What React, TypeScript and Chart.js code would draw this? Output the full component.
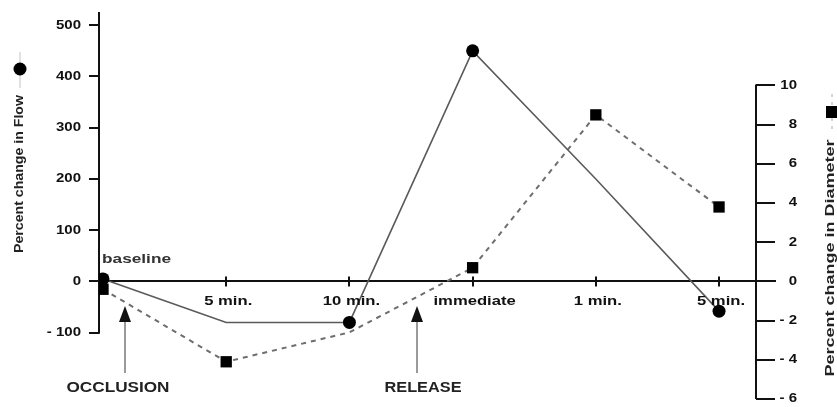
import React, { useEffect, useRef } from 'react';
import { Chart, registerables } from 'chart.js';

Chart.register(...registerables);

// ---- data ----
const categories = ['baseline', '5 min.', '10 min.', 'immediate', '1 min.', '5 min.'];
const flowValues = [5, -80, -80, 450, 200, -58];
const diameterValues = [-0.4, -4.1, -2.6, 0.7, 8.5, 3.8];
const flowMarkers = [true, false, true, true, false, true];
const diameterMarkers = [true, true, false, true, true, true];
const flowTicks = [-100, 0, 100, 200, 300, 400, 500];
const diameterTicks = [-6, -4, -2, 0, 2, 4, 6, 8, 10];
const eventLabels = ['OCCLUSION', 'RELEASE'];
const eventPositions = [0.18, 2.55];
const flowTitle = 'Percent change in Flow';
const diameterTitle = 'Percent change in Diameter';

const FONT = '"Liberation Sans", Arial, Helvetica, sans-serif';

type TextOpts = {
  size: number;
  weight?: string;
  align?: CanvasTextAlign;
  sx?: number;
  width?: number;
  rotate?: number;
  color?: string;
};

function drawText(ctx: CanvasRenderingContext2D, text: string, x: number, y: number, o: TextOpts) {
  ctx.save();
  ctx.font = `${o.weight ?? 'bold'} ${o.size}px ${FONT}`;
  const m = ctx.measureText(text).width;
  const sx = o.width ? o.width / m : o.sx ?? 1;
  ctx.translate(x, y);
  if (o.rotate) ctx.rotate(o.rotate);
  ctx.scale(sx, 1);
  ctx.textAlign = o.align ?? 'center';
  ctx.textBaseline = 'middle';
  ctx.fillStyle = o.color ?? '#111';
  ctx.fillText(text, 0, 0);
  ctx.restore();
}

const fmt = (v: number) => (v < 0 ? `- ${Math.abs(v)}` : `${v}`);

function seg(ctx: CanvasRenderingContext2D, x1: number, y1: number, x2: number, y2: number) {
  ctx.beginPath();
  ctx.moveTo(x1, y1);
  ctx.lineTo(x2, y2);
  ctx.stroke();
}

const paperAxes = {
  id: 'paperAxes',
  beforeDatasetsDraw(chart: any) {
    const { ctx, chartArea, scales } = chart;
    const xs = scales.x, ys = scales.y, y1s = scales.y1;
    const y0 = ys.getPixelForValue(0);
    const lx = chartArea.left;
    const rx = chartArea.right;
    ctx.save();
    ctx.strokeStyle = '#111';
    ctx.lineWidth = 2;
    ctx.lineCap = 'butt';
    // left axis
    seg(ctx, lx, chartArea.top, lx, ys.getPixelForValue(-100) + 1);
    flowTicks.forEach((v) => {
      const py = Math.round(ys.getPixelForValue(v));
      seg(ctx, lx - 10, py, lx, py);
    });
    // right axis
    seg(ctx, rx, y1s.getPixelForValue(10) - 1, rx, y1s.getPixelForValue(-6));
    diameterTicks.forEach((v) => {
      const py = Math.round(y1s.getPixelForValue(v));
      seg(ctx, rx, py, rx + 19, py);
    });
    // x axis
    seg(ctx, lx - 8, Math.round(y0), rx + 20, Math.round(y0));
    categories.forEach((_, i) => {
      if (i === 0) return;
      const px = Math.round(xs.getPixelForValue(i));
      seg(ctx, px, y0 - 5, px, y0 + 5);
    });
    ctx.restore();
  },
  afterDraw(chart: any) {
    const { ctx, chartArea, scales } = chart;
    const xs = scales.x, ys = scales.y, y1s = scales.y1;
    const y0 = ys.getPixelForValue(0);
    const lx = chartArea.left;
    const rx = chartArea.right;

    // tick labels
    flowTicks.forEach((v) => {
      drawText(ctx, fmt(v), lx - 18, ys.getPixelForValue(v), { size: 12, align: 'right', sx: 1.25 });
    });
    diameterTicks.forEach((v) => {
      drawText(ctx, fmt(v), rx + 41, y1s.getPixelForValue(v), { size: 12, align: 'right', sx: 1.25 });
    });
    categories.forEach((c, i) => {
      if (i === 0) {
        drawText(ctx, c, xs.getPixelForValue(i) - 1, y0 - 22, { size: 13, align: 'left', width: 69, color: '#333' });
      } else {
        drawText(ctx, c, xs.getPixelForValue(i) + 2, y0 + 20, { size: 13, sx: 1.28 });
      }
    });

    // event arrows
    eventPositions.forEach((p, k) => {
      const ax = Math.round(xs.getPixelForValue(p));
      ctx.save();
      ctx.strokeStyle = '#9a9a9a';
      ctx.lineWidth = 2;
      seg(ctx, ax, 320, ax, 373);
      ctx.fillStyle = '#111';
      ctx.beginPath();
      ctx.moveTo(ax, 306);
      ctx.lineTo(ax - 6, 322);
      ctx.lineTo(ax + 6, 322);
      ctx.closePath();
      ctx.fill();
      ctx.restore();
      const label = eventLabels[k];
      const w = k === 0 ? 103 : 77;
      const off = k === 0 ? -7 : 6;
      drawText(ctx, label, ax + off, 388, { size: 14, width: w, color: '#222' });
    });

    // axis titles with legend symbols
    drawText(ctx, flowTitle, 20, 174, { size: 12.5, width: 158, rotate: -Math.PI / 2, color: '#222' });
    drawText(ctx, diameterTitle, 830, 258, { size: 13.5, width: 237, rotate: -Math.PI / 2, color: '#222' });

    ctx.save();
    ctx.strokeStyle = '#c4c4c4';
    ctx.lineWidth = 1;
    seg(ctx, 20, 52, 20, 88);
    ctx.fillStyle = '#000';
    ctx.beginPath();
    ctx.arc(20, 69, 6.5, 0, Math.PI * 2);
    ctx.fill();
    ctx.strokeStyle = '#aaa';
    ctx.setLineDash([3, 5]);
    seg(ctx, 832, 94, 832, 132);
    ctx.setLineDash([]);
    ctx.fillStyle = '#000';
    ctx.fillRect(826, 106, 12, 12);
    ctx.restore();
  },
};

export default function App() {
  const ref = useRef<HTMLCanvasElement>(null);

  useEffect(() => {
    document.body.style.margin = '0';
    const canvas = ref.current!;
    const chart = new Chart(canvas, {
      type: 'line',
      data: {
        datasets: [
          {
            label: flowTitle,
            data: categories.map((_, i) => ({ x: i, y: flowValues[i] })),
            yAxisID: 'y',
            borderColor: '#5a5a5a',
            borderWidth: 1.6,
            pointStyle: 'circle',
            pointRadius: flowMarkers.map((m) => (m ? 6.5 : 0)),
            pointHoverRadius: flowMarkers.map((m) => (m ? 6.5 : 0)),
            pointBackgroundColor: '#000',
            pointBorderWidth: 0,
            tension: 0,
          },
          {
            label: diameterTitle,
            data: categories.map((_, i) => ({ x: i, y: diameterValues[i] })),
            yAxisID: 'y1',
            borderColor: '#6e6e6e',
            borderWidth: 2,
            borderDash: [5, 5],
            pointStyle: 'rect',
            pointRadius: diameterMarkers.map((m) => (m ? 8 : 0)),
            pointHoverRadius: diameterMarkers.map((m) => (m ? 8 : 0)),
            pointBackgroundColor: '#000',
            pointBorderWidth: 0,
            tension: 0,
          },
        ],
      },
      options: {
        animation: false,
        responsive: false,
        devicePixelRatio: 1,
        layout: { padding: { left: 99, right: 81, top: 12, bottom: 0 } },
        plugins: { legend: { display: false }, tooltip: { enabled: false } },
        events: [],
        scales: {
          x: { type: 'linear', display: false, min: -0.0325, max: 5.3 },
          y: { type: 'linear', display: false, min: -229.4, max: 525.8 },
          y1: { type: 'linear', display: false, min: -6, max: 13.75 },
        },
      },
      plugins: [paperAxes],
    });
    return () => chart.destroy();
  }, []);

  return (
    <div style={{ width: 837, height: 407, background: '#fff' }}>
      <canvas ref={ref} width={837} height={407} style={{ display: 'block' }} />
    </div>
  );
}
